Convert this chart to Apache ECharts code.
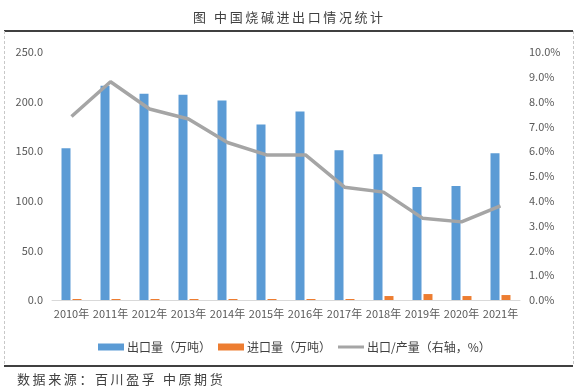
<!DOCTYPE html>
<html>
<head>
<meta charset="utf-8">
<script src="https://cdn.jsdelivr.net/npm/echarts@6/dist/echarts.min.js"></script>
<style>html,body{margin:0;padding:0;background:#fff;}#c{width:587px;height:390px;}</style>
</head>
<body>
<div id="c"></div>
<script>
const years = ['2010年','2011年','2012年','2013年','2014年','2015年','2016年','2017年','2018年','2019年','2020年','2021年'];
const exportVol = [153, 216, 208, 207, 201, 177, 190, 151, 147, 114, 115, 148];
const importVol = [1, 1, 1, 1, 1, 1, 1, 1, 4, 6, 4, 5];
const exportRatio = [7.4, 8.8, 7.7, 7.3, 6.35, 5.85, 5.85, 4.55, 4.35, 3.3, 3.15, 3.8];
const leftTicks = {min: 0, max: 250, interval: 50};
const rightTicks = {min: 0, max: 10, interval: 1};
const seriesNames = ['出口量（万吨）', '进口量（万吨）', '出口/产量（右轴，%）'];

const FONT = '"Noto Sans CJK SC", "Noto Sans", sans-serif';
const chart = echarts.init(document.getElementById('c'), null, {renderer: 'canvas'});
const spaced = s => s.split('').join('\u2009');
chart.setOption({
  animation: false,
  backgroundColor: '#fff',
  title: [{
    text: spaced('图 中国烧碱进出口情况统计'),
    left: 188,
    top: 6,
    textStyle: {fontSize: 13, fontWeight: 'normal', color: '#404040', fontFamily: FONT}
  }, {
    text: spaced('数据来源：百川盈孚 中原期货'),
    left: 12,
    top: 368,
    textStyle: {fontSize: 13, fontWeight: 'normal', color: '#404040', fontFamily: FONT}
  }],
  graphic: [
    {type: 'line', shape: {x1: 4, y1: 31, x2: 573, y2: 31}, style: {stroke: '#000', lineWidth: 1.5}},
    {type: 'line', shape: {x1: 4, y1: 366, x2: 573, y2: 366}, style: {stroke: '#000', lineWidth: 1.5}},
    {type: 'line', shape: {x1: 4.5, y1: 31, x2: 4.5, y2: 366}, style: {stroke: '#c8c8c8', lineWidth: 1, lineDash: [3, 2]}},
    {type: 'line', shape: {x1: 573.5, y1: 31, x2: 573.5, y2: 366}, style: {stroke: '#c8c8c8', lineWidth: 1, lineDash: [3, 2]}}
  ],
  legend: {
    left: 93,
    top: 336,
    itemWidth: 26,
    itemHeight: 7,
    itemGap: 7,
    textStyle: {fontSize: 12, color: '#404040', fontFamily: FONT, padding: [0, 0, 0, -2]},
    data: [
      {name: seriesNames[0], icon: 'rect'},
      {name: seriesNames[1], icon: 'rect'},
      {name: seriesNames[2], icon: 'path://M0,0H26V3H0Z'}
    ]
  },
  grid: {left: 52, right: 67, top: 52, bottom: 90},
  xAxis: {
    type: 'category',
    data: years,
    axisLine: {lineStyle: {color: '#d9d9d9', width: 1}},
    axisTick: {show: false},
    axisLabel: {color: '#595959', fontSize: 11, fontFamily: FONT, margin: 8, interval: 0}
  },
  yAxis: [{
    type: 'value',
    min: leftTicks.min, max: leftTicks.max, interval: leftTicks.interval,
    splitLine: {show: false},
    axisLine: {show: false},
    axisTick: {show: false},
    axisLabel: {color: '#595959', fontSize: 11, fontFamily: FONT, margin: 9, formatter: v => v.toFixed(1)}
  }, {
    type: 'value',
    min: rightTicks.min, max: rightTicks.max, interval: rightTicks.interval,
    splitLine: {show: false},
    axisLine: {show: false},
    axisTick: {show: false},
    axisLabel: {color: '#595959', fontSize: 11, fontFamily: FONT, margin: 9, formatter: v => v.toFixed(1) + '%'}
  }],
  series: [{
    name: seriesNames[0], type: 'bar', data: exportVol, barWidth: 9, barGap: '22%',
    itemStyle: {color: '#5B9BD5'}
  }, {
    name: seriesNames[1], type: 'bar', data: importVol, barWidth: 9,
    itemStyle: {color: '#ED7D31'}
  }, {
    name: seriesNames[2], type: 'line', yAxisIndex: 1, data: exportRatio,
    symbol: 'none', lineStyle: {color: '#A5A5A5', width: 3.5}, itemStyle: {color: '#A5A5A5'}
  }]
});
</script>
</body>
</html>
